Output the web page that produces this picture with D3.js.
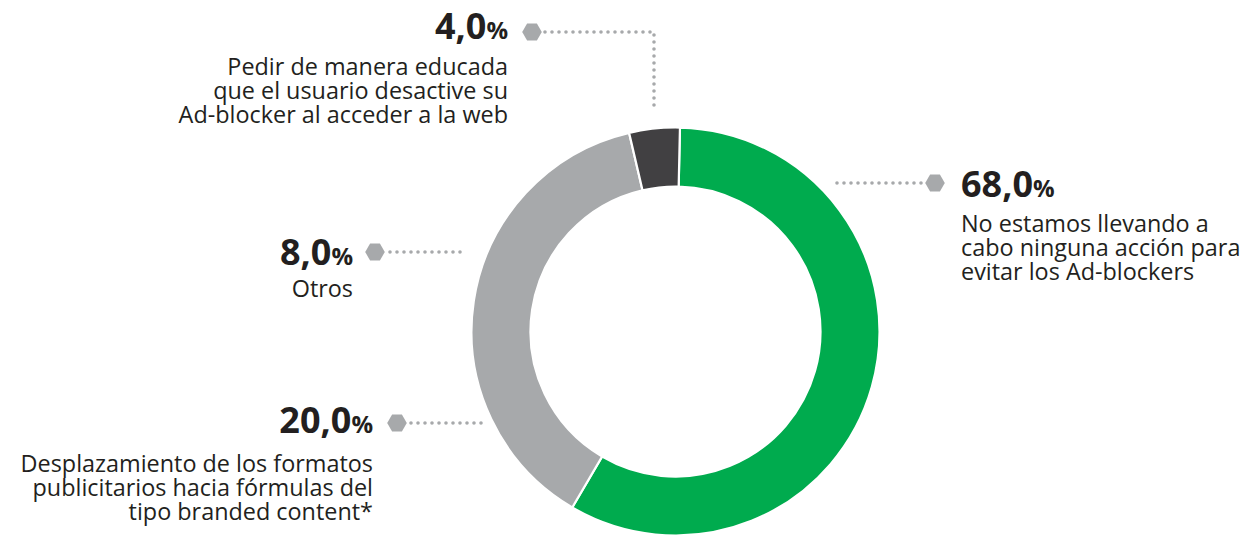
<!DOCTYPE html>
<html><head><meta charset="utf-8">
<script src="https://cdn.jsdelivr.net/npm/d3@7"></script>
<style>
html,body{margin:0;padding:0;background:#fff;}
svg{display:block;}
</style></head>
<body>
<svg id="chart" width="1247" height="536"></svg>
<script>
// ---- data ----
const categories = [
  "No estamos llevando a cabo ninguna acción para evitar los Ad-blockers",
  "Desplazamiento de los formatos publicitarios hacia fórmulas del tipo branded content*",
  "Otros",
  "Pedir de manera educada que el usuario desactive su Ad-blocker al acceder a la web"
];
const values = [68.0, 20.0, 8.0, 4.0];           // printed percentages
const descLines = [
  ["No estamos llevando a", "cabo ninguna acción para", "evitar los Ad-blockers"],
  ["Desplazamiento de los formatos", "publicitarios hacia fórmulas del", "tipo branded content*"],
  ["Otros"],
  ["Pedir de manera educada", "que el usuario desactive su", "Ad-blocker al acceder a la web"]
];
// ring segments as drawn in the original picture (clockwise from 12 o'clock)
const ringNames  = ["No acción", "Desplazamiento + Otros", "Pedir de manera educada"];
const ringShares = [58.1, 37.9, 4.0];
const ringColors = ["#00ab4e", "#a7a9ab", "#414042"];

// ---- layout ----
const svg = d3.select("#chart");
const cx = 675.5, cy = 331.5, rOut = 204, rIn = 145;
const rot = 1.25 * Math.PI / 180;
const textColor = "#231f20", dotColor = "#a7a9ab";
const fontFam = "'Open Sans', 'Noto Sans', sans-serif";

const pie = d3.pie().sort(null).value(d => d)
  .startAngle(rot).endAngle(rot + 2 * Math.PI)(ringShares);
const arc = d3.arc().innerRadius(rIn).outerRadius(rOut);
svg.append("g").attr("transform", `translate(${cx},${cy})`)
  .selectAll("path").data(pie).join("path")
  .attr("d", arc)
  .attr("fill", (d, i) => ringColors[i])
  .attr("stroke", "#fff").attr("stroke-width", 2.2);

const locale = d3.formatLocale({decimal: ",", thousands: ".", grouping: [3], currency: ["", "€"]});
const fmt = locale.format(".1f");

// label placement (layout only)
const labelLayout = [
  {x: 961, anchor: "start", numY: 197, lineY: 232, hex: [935, 183], path: [[837, 183], [924, 183]]},
  {x: 373, anchor: "end",   numY: 433, lineY: 472, hex: [397, 423], path: [[411, 423], [484, 423]]},
  {x: 353, anchor: "end",   numY: 265, lineY: 297, hex: [375, 252], path: [[390, 252], [463, 252]]},
  {x: 508, anchor: "end",   numY: 39,  lineY: 75,  hex: [532, 32],  path: [[545, 32], [654, 32], [654, 108]]}
];
const lineH = 24;

const hexPath = (r) => d3.line()(d3.range(6).map(k => [r * Math.cos(k * Math.PI / 3), r * Math.sin(k * Math.PI / 3)])) + "Z";

const g = svg.append("g");
values.forEach((v, i) => {
  const L = labelLayout[i];
  // dotted connector
  g.append("path")
    .attr("d", d3.line()(L.path))
    .attr("fill", "none").attr("stroke", dotColor)
    .attr("stroke-width", 3.6).attr("stroke-linecap", "round")
    .attr("stroke-dasharray", "0 7");
  // hexagon marker
  g.append("path")
    .attr("d", hexPath(9.8))
    .attr("transform", `translate(${L.hex[0]},${L.hex[1]})`)
    .attr("fill", dotColor);
  // value
  const t = g.append("text")
    .attr("x", L.x).attr("y", L.numY)
    .attr("text-anchor", L.anchor)
    .attr("font-family", fontFam).attr("font-weight", 700)
    .attr("fill", textColor);
  t.append("tspan").attr("font-size", 36).text(fmt(v));
  t.append("tspan").attr("font-size", 24).text("%");
  // description
  const d = g.append("text")
    .attr("text-anchor", L.anchor)
    .attr("font-family", fontFam).attr("font-size", 23.4)
    .attr("fill", textColor);
  descLines[i].forEach((s, j) => {
    d.append("tspan").attr("x", L.x).attr("y", L.lineY + j * lineH).text(s);
  });
});
</script>
</body></html>
